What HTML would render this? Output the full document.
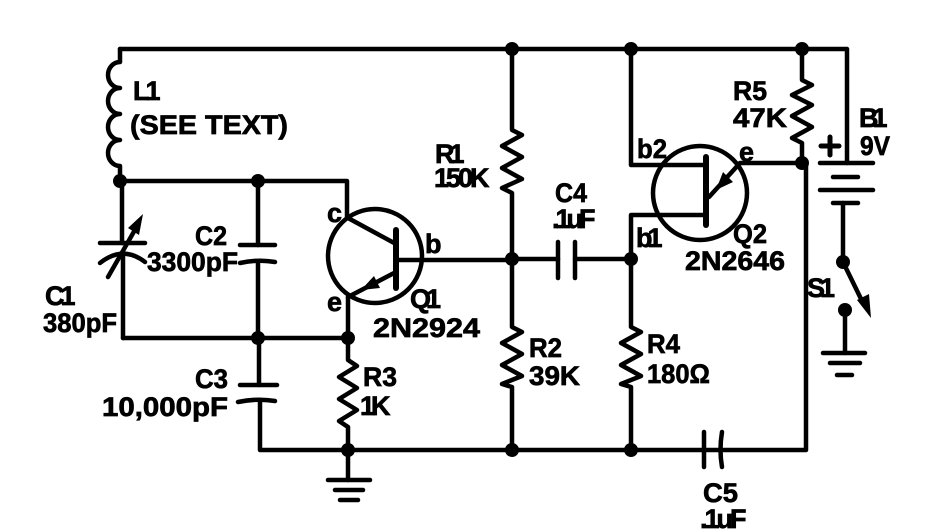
<!DOCTYPE html>
<html><head><meta charset="utf-8"><style>
html,body{margin:0;padding:0;background:#fff;}
svg{display:block;}
text{font-family:"Liberation Sans",sans-serif;font-weight:bold;font-size:27px;fill:#000;stroke:#000;stroke-width:0.7px;}
</style></head><body>
<svg width="943" height="530" viewBox="0 0 943 530" xmlns="http://www.w3.org/2000/svg">
<g fill="none" stroke="#000" stroke-width="4.5" stroke-linecap="round" stroke-linejoin="round">
<!-- top wire -->
<path d="M120,49 H847 V163"/>
<!-- L1 coil -->
<path d="M120,49 V62 A12,13 0 0 0 120,88 A12,13 0 0 0 120,114 A12,13 0 0 0 120,140 A12,13 0 0 0 120,166 V181"/>
<!-- wire y=181 -->
<path d="M120,181 H347 V218"/>
<!-- C1 -->
<path d="M122,181 V243"/>
<path d="M100,243 H145"/>
<path d="M100,263 Q123,245 145,262"/>
<path d="M123,253 V338"/>
<path d="M108,277 L136,228"/>
<!-- C2 -->
<path d="M258,181 V245"/>
<path d="M240,245 H275"/>
<path d="M240,263 Q258,259 275,262"/>
<path d="M258,262 V338"/>
<!-- wire y=338 -->
<path d="M123,338 H348"/>
<!-- C3 -->
<path d="M259,338 V385"/>
<path d="M240,385 H277"/>
<path d="M238,402 Q257,398 275,401"/>
<path d="M260,401 V450 H806 V163"/>
<!-- R3 -->
<path d="M348,297 V360 L357,366 L339,377 L357,388 L339,399 L357,410 L339,421 L348,427 V450"/>
<!-- ground bottom -->
<path d="M348,450 V480"/>
<path d="M328,480 H370"/>
<path d="M335,490 H363"/>
<path d="M340,500 H358"/>
<!-- Q1 -->
<circle cx="375" cy="256" r="47"/>
<path d="M396,230 V288" stroke-width="6"/>
<path d="M348,218 L396,244"/>
<path d="M396,272 L348,297"/>
<path d="M396,260 H512"/>
<!-- R1 -->
<path d="M512,49 V130 L522,135 L502,146 L522,157 L502,168 L522,179 L502,188 L512,193 V259"/>
<!-- R2 -->
<path d="M512,259 V327 L522,332 L502,343 L522,354 L502,365 L522,376 L502,384 L512,387 V450"/>
<!-- C4 -->
<path d="M512,259 H558"/>
<path d="M558,242 V278"/>
<path d="M575,242 V278"/>
<path d="M575,259 H631"/>
<!-- R4 / b1 -->
<path d="M706,215 H631 V327 L641,332 L621,343 L641,354 L621,365 L641,376 L621,384 L631,387 V450"/>
<!-- b2 -->
<path d="M631,49 V165 H706"/>
<!-- Q2 -->
<circle cx="700" cy="193" r="47"/>
<path d="M706,157 V225" stroke-width="6"/>
<path d="M709,197 L740,163 H802"/>
<!-- R5 -->
<path d="M802,49 V80 L812,85 L792,95 L812,105 L792,116 L812,127 L792,138 L802,143 V163"/>
<!-- C5 -->
<path d="M704,432 V467"/>
<path d="M722,432 Q719,450 722,467"/>
<!-- battery -->
<path d="M820,163 H873"/>
<path d="M833,177 H858"/>
<path d="M820,190 H873"/>
<path d="M833,203 H858"/>
<path d="M843,203 V262"/>
<path d="M843,262 L864,305"/>
<path d="M845,310 V353"/>
<path d="M823,353 H865"/>
<path d="M830,363 H860"/>
<path d="M837,375 H852"/>
<!-- plus -->
<path d="M821,146 H839 M830,137 V155" stroke-width="5"/>
</g>
<g fill="#000" stroke="none">
<!-- arrows -->
<polygon points="143,214 139,235 128,228"/>
<polygon points="361,290 380,288 374,276"/>
<polygon points="716,190 733,182 723,172"/>
<polygon points="871,318 857,300 869,294"/>
<!-- dots -->
<circle cx="120" cy="181" r="7"/>
<circle cx="258" cy="181" r="7"/>
<circle cx="258" cy="338" r="7"/>
<circle cx="348" cy="338" r="7"/>
<circle cx="348" cy="450" r="7"/>
<circle cx="512" cy="49" r="7"/>
<circle cx="631" cy="49" r="7"/>
<circle cx="802" cy="49" r="7"/>
<circle cx="512" cy="259" r="7"/>
<circle cx="631" cy="259" r="7"/>
<circle cx="802" cy="163" r="7"/>
<circle cx="512" cy="450" r="7"/>
<circle cx="631" cy="450" r="7"/>
<circle cx="843" cy="262" r="7"/>
<circle cx="845" cy="310" r="7"/>
</g>
<!-- labels -->
<text x="133" y="100" letter-spacing="-4">L1</text>
<text x="130" y="134" textLength="158" lengthAdjust="spacingAndGlyphs">(SEE TEXT)</text>
<text x="45" y="305" letter-spacing="-4">C1</text>
<text x="43" y="332" textLength="74" lengthAdjust="spacingAndGlyphs">380pF</text>
<text x="195" y="245" textLength="32" lengthAdjust="spacingAndGlyphs">C2</text>
<text x="147" y="271" textLength="91" lengthAdjust="spacingAndGlyphs">3300pF</text>
<text x="195" y="388" textLength="33" lengthAdjust="spacingAndGlyphs">C3</text>
<text x="102" y="416" textLength="126" lengthAdjust="spacingAndGlyphs">10,000pF</text>
<text x="363" y="386" textLength="34" lengthAdjust="spacingAndGlyphs">R3</text>
<text x="360" y="415" letter-spacing="-4">1K</text>
<text x="327" y="222">c</text>
<text x="425" y="253">b</text>
<text x="327" y="311">e</text>
<text x="410" y="308" letter-spacing="-5">Q1</text>
<text x="373" y="337" textLength="107" lengthAdjust="spacingAndGlyphs">2N2924</text>
<text x="435" y="163" letter-spacing="-5">R1</text>
<text x="434" y="187" letter-spacing="-3">150K</text>
<text x="555" y="202" textLength="32" lengthAdjust="spacingAndGlyphs">C4</text>
<text x="552" y="228" letter-spacing="-4">.1uF</text>
<text x="529" y="357" textLength="33" lengthAdjust="spacingAndGlyphs">R2</text>
<text x="529" y="385" textLength="51" lengthAdjust="spacingAndGlyphs">39K</text>
<text x="647" y="353" textLength="33" lengthAdjust="spacingAndGlyphs">R4</text>
<text x="647" y="383" textLength="63" lengthAdjust="spacingAndGlyphs">180Ω</text>
<text x="703" y="502" textLength="35" lengthAdjust="spacingAndGlyphs">C5</text>
<text x="700" y="528" letter-spacing="-3">.1uF</text>
<text x="637" y="158" textLength="30" lengthAdjust="spacingAndGlyphs">b2</text>
<text x="739" y="161">e</text>
<text x="636" y="247" letter-spacing="-5">b1</text>
<text x="733" y="243" textLength="34" lengthAdjust="spacingAndGlyphs">Q2</text>
<text x="685" y="270" textLength="100" lengthAdjust="spacingAndGlyphs">2N2646</text>
<text x="733" y="100" textLength="34" lengthAdjust="spacingAndGlyphs">R5</text>
<text x="733" y="127" textLength="54" lengthAdjust="spacingAndGlyphs">47K</text>
<text x="859" y="127" letter-spacing="-6">B1</text>
<text x="860" y="155" textLength="30" lengthAdjust="spacingAndGlyphs">9V</text>
<text x="807" y="297" letter-spacing="-5">S1</text>
</svg>
</body></html>
